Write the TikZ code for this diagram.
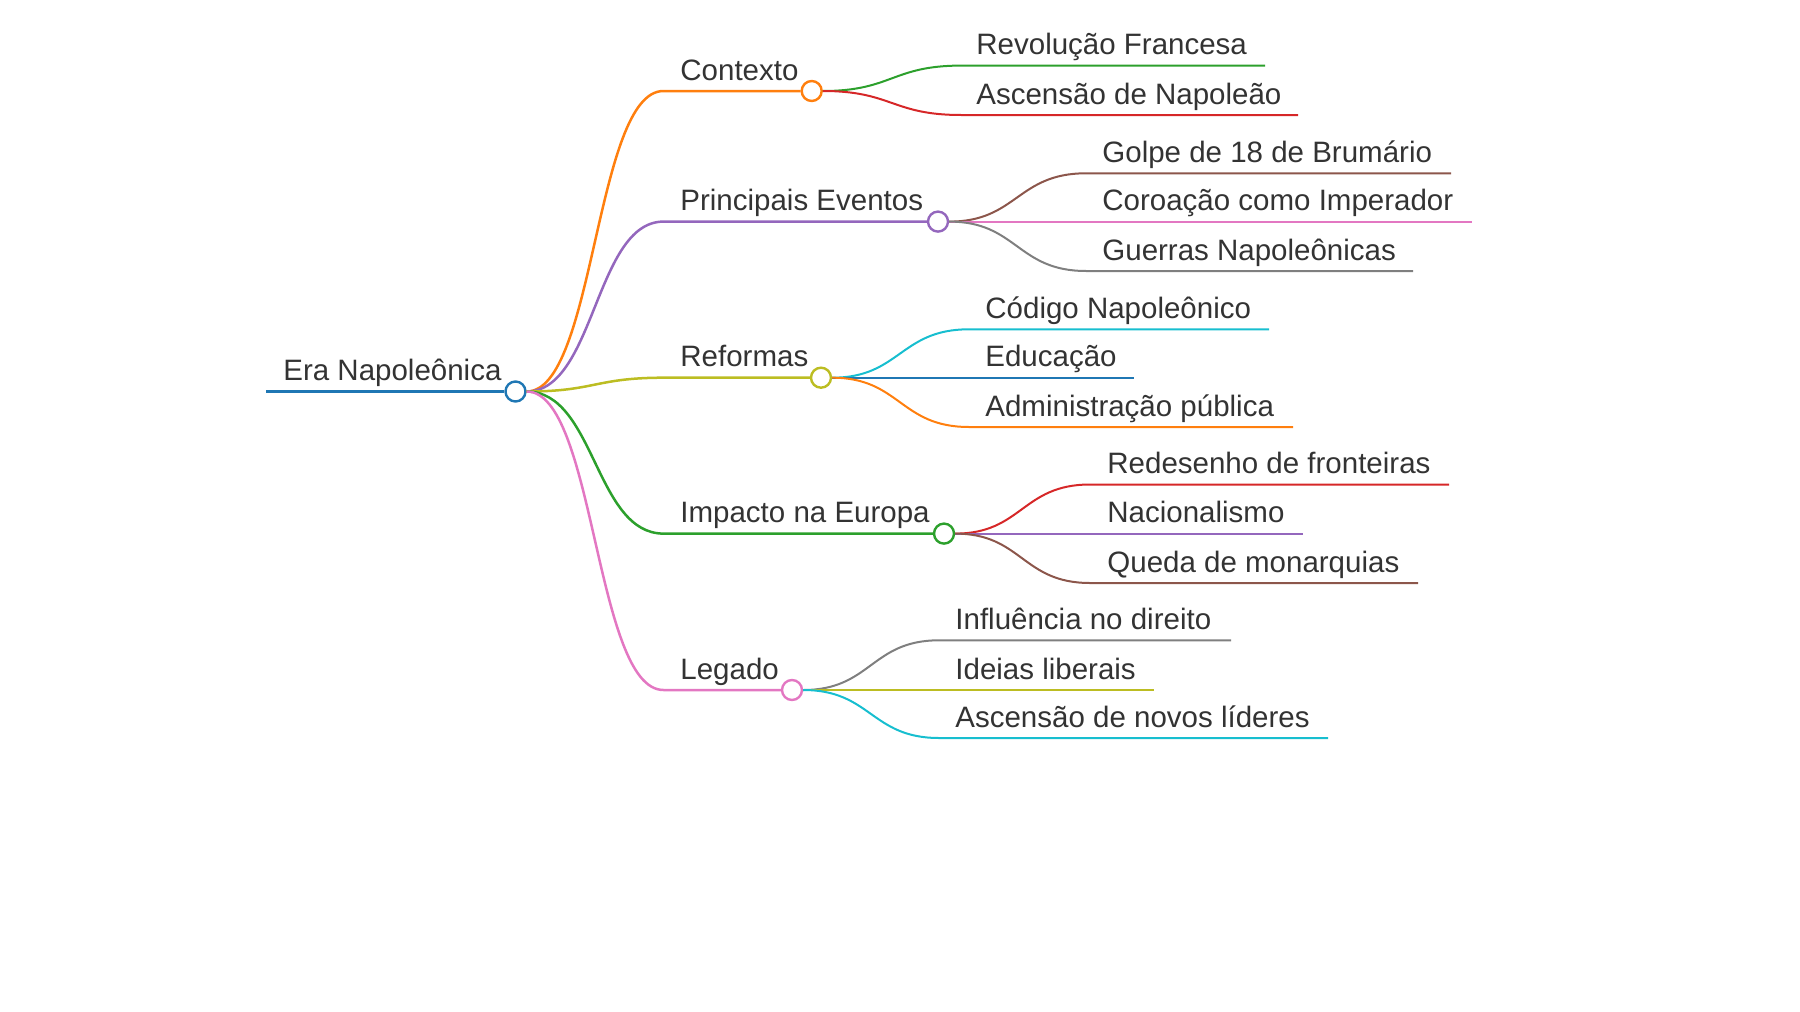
\documentclass[tikz,border=0pt]{standalone}
\usepackage{fontspec}
\setmainfont{Liberation Sans}
\usetikzlibrary{calc}
\definecolor{cblue}{HTML}{1F77B4}
\definecolor{corange}{HTML}{FF7F0E}
\definecolor{cgreen}{HTML}{2CA02C}
\definecolor{cred}{HTML}{D62728}
\definecolor{cpurple}{HTML}{9467BD}
\definecolor{cbrown}{HTML}{8C564B}
\definecolor{cpink}{HTML}{E377C2}
\definecolor{cgray}{HTML}{7F7F7F}
\definecolor{colive}{HTML}{BCBD22}
\definecolor{ccyan}{HTML}{17BECF}
\definecolor{txt}{HTML}{333333}
\begin{document}
\begin{tikzpicture}[x=0.5pt,y=-0.5pt,
  lbl/.style={anchor=base west, inner sep=0, text=txt, font=\fontsize{14.75}{17}\selectfont},
  dot/.style={circle, draw=#1, fill=white, line width=1.2pt, minimum size=10pt, inner sep=0},
  l0/.style={line width=1.75pt},
  l1/.style={line width=1.25pt},
  l2/.style={line width=1pt}]
\useasboundingbox (0,0) rectangle (1800,1012);

% root
\coordinate (r0) at (266,391.5);
\node[dot=cblue] (rc) at (515.5,391.5) {};
\node[lbl] (rt) at (283,380.5) {Era Napoleônica};
\draw[cblue,l0] (r0) -- (rc.west);

% level 1 helpers
\coordinate (m0) at (595,0);

% Contexto
\coordinate (c1s) at (663.5,91);
\node[dot=corange] (c1) at (811.7,91) {};
\node[lbl] (c1t) at (680,80) {Contexto};
\draw[corange,l1] (rc.east) .. controls (m0 |- rc.east) and (m0 |- c1s) .. (c1s) -- (c1.west);

% Principais Eventos
\coordinate (c2s) at (663.5,221.6);
\node[dot=cpurple] (c2) at (938,221.6) {};
\node[lbl] (c2t) at (680,210.6) {Principais Eventos};
\draw[cpurple,l1] (rc.east) .. controls (m0 |- rc.east) and (m0 |- c2s) .. (c2s) -- (c2.west);

% Reformas
\coordinate (c3s) at (663.5,377.7);
\node[dot=colive] (c3) at (821,377.7) {};
\node[lbl] (c3t) at (680,366.7) {Reformas};
\draw[colive,l1] (rc.east) .. controls (m0 |- rc.east) and (m0 |- c3s) .. (c3s) -- (c3.west);

% Impacto na Europa
\coordinate (c4s) at (663.5,533.6);
\node[dot=cgreen] (c4) at (944,533.6) {};
\node[lbl] (c4t) at (680,522.6) {Impacto na Europa};
\draw[cgreen,l1] (rc.east) .. controls (m0 |- rc.east) and (m0 |- c4s) .. (c4s) -- (c4.west);

% Legado
\coordinate (c5s) at (663.5,690);
\node[dot=cpink] (c5) at (792,690) {};
\node[lbl] (c5t) at (680,679) {Legado};
\draw[cpink,l1] (rc.east) .. controls (m0 |- rc.east) and (m0 |- c5s) .. (c5s) -- (c5.west);

% Contexto children
\coordinate (m1) at (892,0);
\coordinate (c11s) at (961,65.6); \coordinate (c11e) at (1265,65.6);
\node[lbl] (c11t) at (976,54.6) {Revolução Francesa};
\draw[cgreen,l2] (c1.east) .. controls (m1 |- c1.east) and (m1 |- c11s) .. (c11s) -- (c11e);
\coordinate (c12s) at (961,115); \coordinate (c12e) at (1298,115);
\node[lbl] (c12t) at (976,104) {Ascensão de Napoleão};
\draw[cred,l2] (c1.east) .. controls (m1 |- c1.east) and (m1 |- c12s) .. (c12s) -- (c12e);

% Principais Eventos children
\coordinate (m2) at (1017,0);
\coordinate (c21s) at (1086,173.3); \coordinate (c21e) at (1451,173.3);
\node[lbl] (c21t) at (1102,162.3) {Golpe de 18 de Brumário};
\draw[cbrown,l2] (c2.east) .. controls (m2 |- c2.east) and (m2 |- c21s) .. (c21s) -- (c21e);
\coordinate (c22s) at (1086,221.6); \coordinate (c22e) at (1472,221.6);
\node[lbl] (c22t) at (1102,210.6) {Coroação como Imperador};
\draw[cpink,l2] (c2.east) -- (c22s) -- (c22e);
\coordinate (c23s) at (1086,271); \coordinate (c23e) at (1413,271);
\node[lbl] (c23t) at (1102,260) {Guerras Napoleônicas};
\draw[cgray,l2] (c2.east) .. controls (m2 |- c2.east) and (m2 |- c23s) .. (c23s) -- (c23e);

% Reformas children
\coordinate (m3) at (900,0);
\coordinate (c31s) at (969,329.3); \coordinate (c31e) at (1269,329.3);
\node[lbl] (c31t) at (985,318.3) {Código Napoleônico};
\draw[ccyan,l2] (c3.east) .. controls (m3 |- c3.east) and (m3 |- c31s) .. (c31s) -- (c31e);
\coordinate (c32s) at (969,377.7); \coordinate (c32e) at (1134,377.7);
\node[lbl] (c32t) at (985,366.7) {Educação};
\draw[cblue,l2] (c3.east) -- (c32s) -- (c32e);
\coordinate (c33s) at (969,427); \coordinate (c33e) at (1293,427);
\node[lbl] (c33t) at (985,416) {Administração pública};
\draw[corange,l2] (c3.east) .. controls (m3 |- c3.east) and (m3 |- c33s) .. (c33s) -- (c33e);

% Impacto children
\coordinate (m4) at (1022,0);
\coordinate (c41s) at (1090,484.5); \coordinate (c41e) at (1449,484.5);
\node[lbl] (c41t) at (1107,473.5) {Redesenho de fronteiras};
\draw[cred,l2] (c4.east) .. controls (m4 |- c4.east) and (m4 |- c41s) .. (c41s) -- (c41e);
\coordinate (c42s) at (1090,533.6); \coordinate (c42e) at (1303,533.6);
\node[lbl] (c42t) at (1107,522.6) {Nacionalismo};
\draw[cpurple,l2] (c4.east) -- (c42s) -- (c42e);
\coordinate (c43s) at (1090,583); \coordinate (c43e) at (1418,583);
\node[lbl] (c43t) at (1107,572) {Queda de monarquias};
\draw[cbrown,l2] (c4.east) .. controls (m4 |- c4.east) and (m4 |- c43s) .. (c43s) -- (c43e);

% Legado children
\coordinate (m5) at (871,0);
\coordinate (c51s) at (939,640.3); \coordinate (c51e) at (1231,640.3);
\node[lbl] (c51t) at (955,629.3) {Influência no direito};
\draw[cgray,l2] (c5.east) .. controls (m5 |- c5.east) and (m5 |- c51s) .. (c51s) -- (c51e);
\coordinate (c52s) at (939,690); \coordinate (c52e) at (1154,690);
\node[lbl] (c52t) at (955,679) {Ideias liberais};
\draw[colive,l2] (c5.east) -- (c52s) -- (c52e);
\coordinate (c53s) at (939,738); \coordinate (c53e) at (1328,738);
\node[lbl] (c53t) at (955,727) {Ascensão de novos líderes};
\draw[ccyan,l2] (c5.east) .. controls (m5 |- c5.east) and (m5 |- c53s) .. (c53s) -- (c53e);
\end{tikzpicture}
\end{document}
